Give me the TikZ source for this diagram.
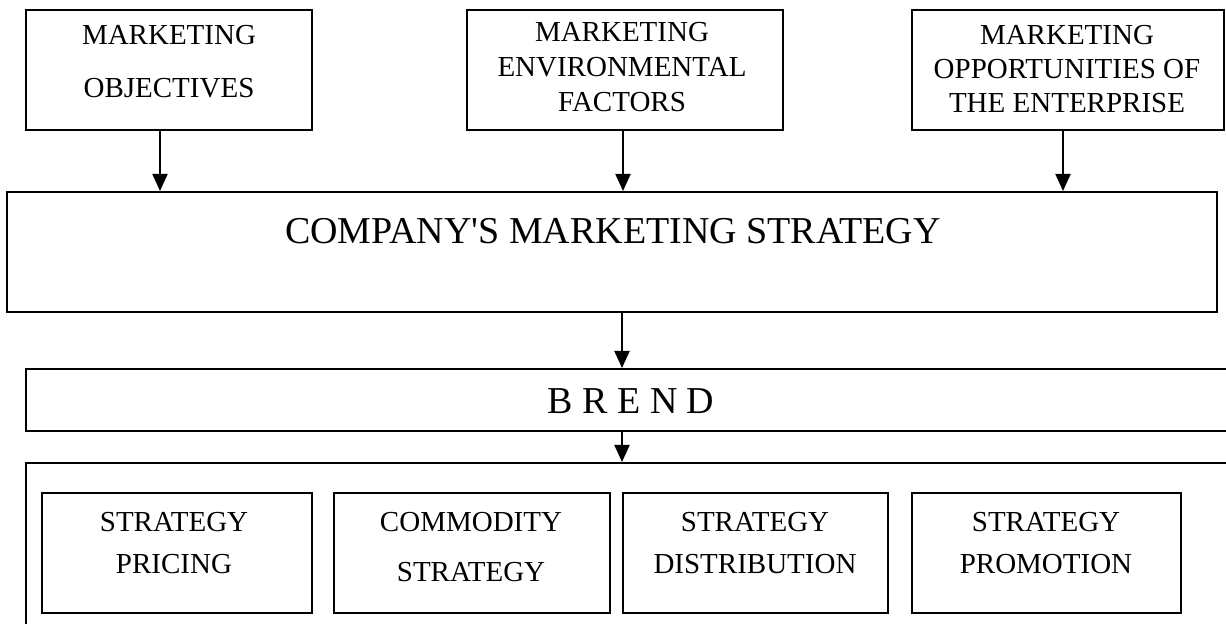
\documentclass[tikz,border=0pt]{standalone}
\usepackage{fontspec}
\setmainfont{Liberation Serif}
\usetikzlibrary{arrows.meta,calc}

\begin{document}
\begin{tikzpicture}[x=0.5pt,y=-0.5pt,line cap=round,
  box/.style={draw,line width=1pt,inner sep=0pt},
  txt/.style={anchor=north,inner sep=0pt,align=center},
  arr/.style={line width=1pt,-{Triangle[width=7.5pt,length=8.5pt]}}]
  \useasboundingbox (0,0) rectangle (1226,624);
  \clip (0,0) rectangle (1226,624);
  % top row
  \node[box,minimum width=143pt,minimum height=60pt] (b1) at (169,70) {};
  \node[box,minimum width=158pt,minimum height=60pt] (b2) at (625,70) {};
  \node[box,minimum width=156pt,minimum height=60pt] (b3) at (1068,70) {};
  \node[txt,font=\fontsize{14.5}{26.5}\selectfont] (t1) at (169,25) {MARKETING\\OBJECTIVES};
  \node[txt,font=\fontsize{14.5}{17.5}\selectfont] (t2) at (622,22) {MARKETING\\ENVIRONMENTAL\\FACTORS};
  \node[txt,font=\fontsize{14.5}{17}\selectfont] (t3) at (1067,25) {MARKETING\\OPPORTUNITIES OF\\THE ENTERPRISE};
  % strategy and brand
  \node[box,minimum width=605pt,minimum height=60pt] (strat) at (612,252) {};
  \node[txt,font=\fontsize{19}{23}\selectfont] (ts) at (613,218) {COMPANY\textquotesingle S MARKETING STRATEGY};
  \node[box,minimum width=607pt,minimum height=31pt] (brend) at (633,400) {};
  \node[txt,font=\fontsize{19}{23}\selectfont] (tb) at (631,388) {B R E N D};
  % bottom block
  \node[box,minimum width=607pt,minimum height=88.5pt] (cont) at (633,551.5) {};
  \node[box,minimum width=135pt,minimum height=60pt] (s1) at (177,553) {};
  \node[box,minimum width=138pt,minimum height=60pt] (s2) at (472,553) {};
  \node[box,minimum width=132.5pt,minimum height=60pt] (s3) at (755.5,553) {};
  \node[box,minimum width=134.5pt,minimum height=60pt] (s4) at (1046.5,553) {};
  \node[txt,font=\fontsize{14.5}{21}\selectfont] (u1) at (174,512) {STRATEGY\\PRICING};
  \node[txt,font=\fontsize{14.5}{25}\selectfont] (u2) at (471,512) {COMMODITY\\STRATEGY};
  \node[txt,font=\fontsize{14.5}{21}\selectfont] (u3) at (755,512) {STRATEGY\\DISTRIBUTION};
  \node[txt,font=\fontsize{14.5}{21}\selectfont] (u4) at (1046,512) {STRATEGY\\PROMOTION};
  % arrows
  \draw[arr] ($(b1.south)+(-9,0)$) -- ($(b1.south|-strat.north)+(-9,0)$);
  \draw[arr] ($(b2.south)+(-2,0)$) -- ($(b2.south|-strat.north)+(-2,0)$);
  \draw[arr] ($(b3.south)+(-5,0)$) -- ($(b3.south|-strat.north)+(-5,0)$);
  \draw[arr] ($(strat.south)+(10,0)$) -- ($(strat.south|-brend.north)+(10,0)$);
  \draw[arr] ($(strat.south|-brend.south)+(10,0)$) -- ($(strat.south|-cont.north)+(10,0)$);
\end{tikzpicture}
\end{document}
